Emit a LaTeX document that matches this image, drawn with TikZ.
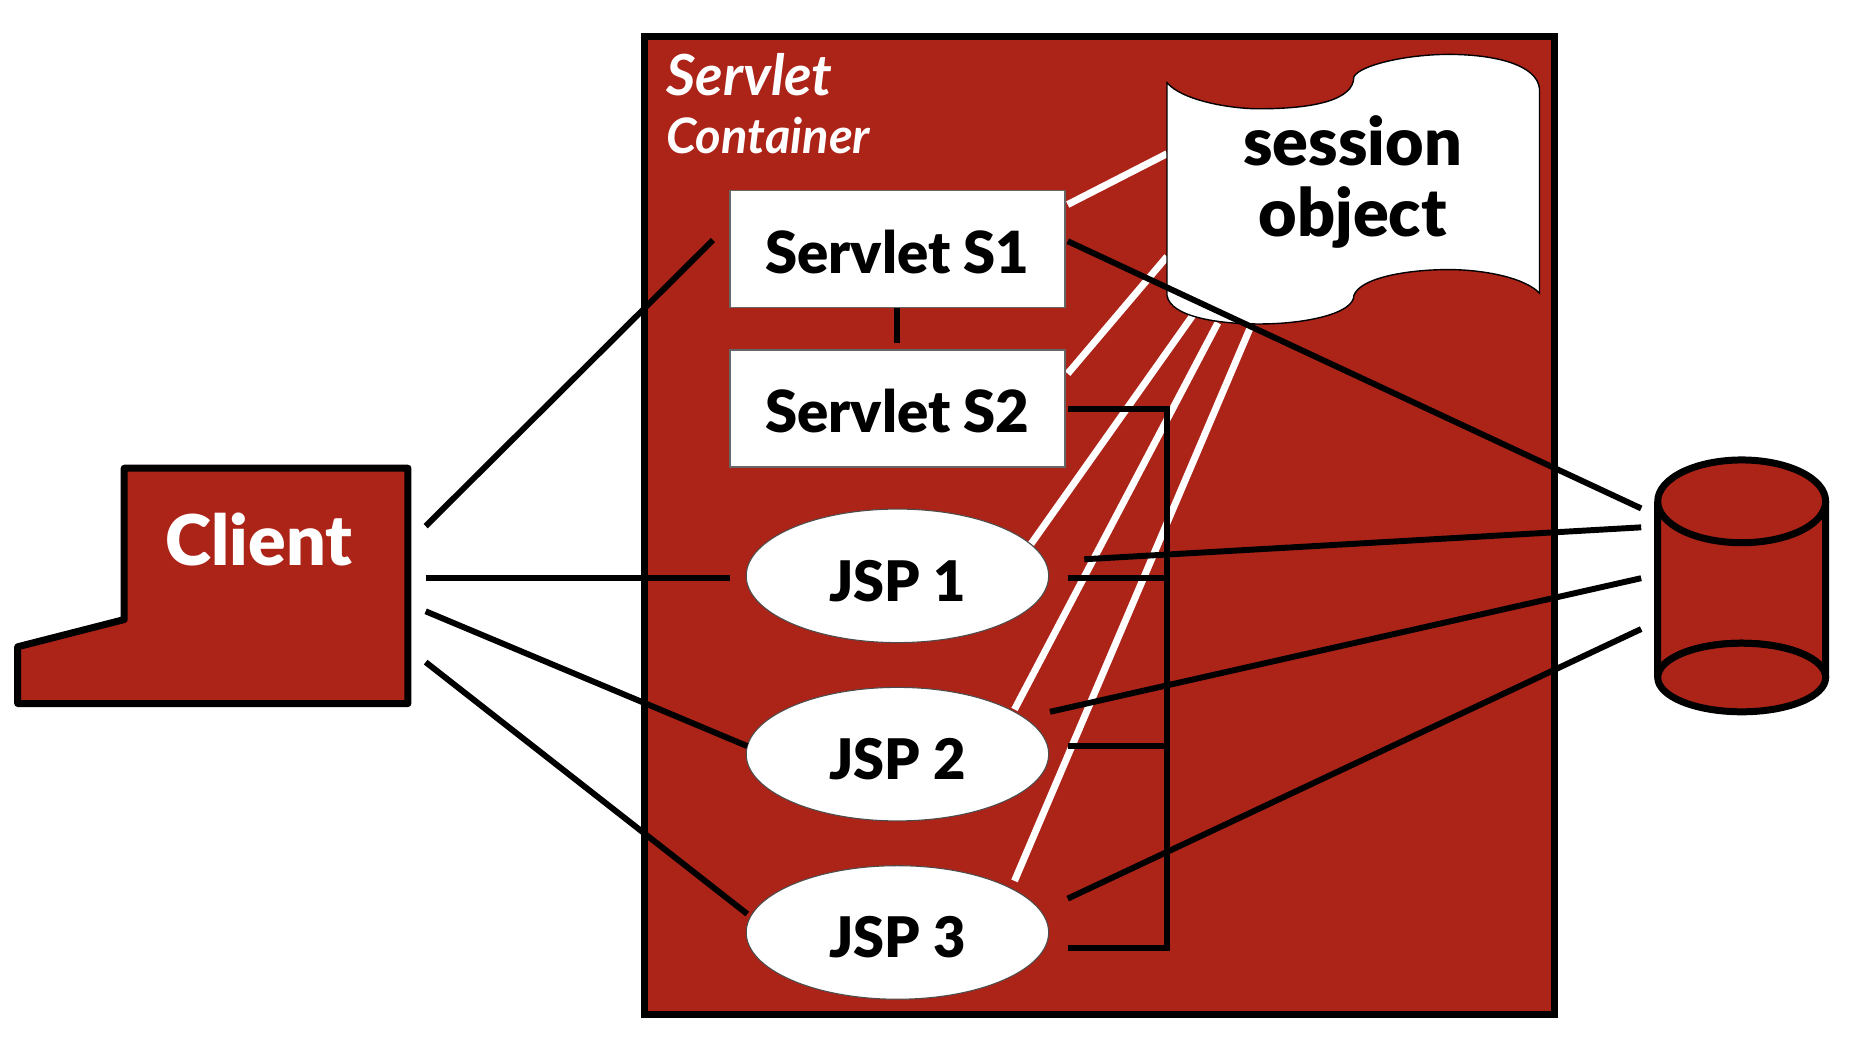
\documentclass[tikz,border=0pt]{standalone}
\usepackage{fontspec}
\setmainfont{Lato}[BoldFont={Lato Black},BoldItalicFont={Lato Bold Italic}]
\usetikzlibrary{shapes.geometric}
\usetikzlibrary{positioning}
\definecolor{brick}{HTML}{AC2318}
\tikzstyle{containerbox} = [rectangle, minimum width=9.148cm, minimum height=9.825cm, inner sep=0pt, draw=black, line width=2pt, fill=brick]
\tikzstyle{servlet} = [rectangle, minimum width=3.374cm, minimum height=1.176cm, inner sep=0pt, text height=14pt, text depth=0pt, text centered, draw=black!60, line width=0.5pt, fill=white, font=\fontsize{16.6}{18}\selectfont\bfseries]
\tikzstyle{jsp} = [ellipse, minimum width=3.04cm, minimum height=1.342cm, inner sep=0pt, text height=14.5pt, text depth=0pt, text centered, draw=black!70, line width=0.3pt, fill=white, font=\fontsize{16}{18}\selectfont\bfseries]
\tikzstyle{brickshape} = [draw=black, line width=2pt, line join=round, fill=brick]
\tikzstyle{paper} = [draw=black, line width=0.4pt, fill=white]
\tikzstyle{arrow} = [line width=1.7pt, black]
\tikzstyle{sharedline} = [line width=2pt, white]

\begin{document}
\begin{tikzpicture}[x=0.01188cm, y=-0.01188cm, node distance=0.41cm]
	\useasboundingbox (0,0) rectangle (1568,886);

	\node (container) [containerbox] at (930,444.5) {};
	\node (container_title) [white, anchor=north west, inner sep=0pt, align=left, font=\bfseries\itshape] at (563,45) {{\fontsize{16.2}{19}\selectfont Servlet}\\[4.5pt]{\fontsize{14}{17}\selectfont Container}};

	% free ends of the connectors
	\coordinate (client_a) at (360,445);
	\coordinate (client_b) at (360,489);
	\coordinate (client_c) at (360,517);
	\coordinate (client_d) at (360,560);
	\coordinate (s1_in) at (603,203);
	\coordinate (jsp1_in) at (617,489);
	\coordinate (jsp2_in) at (632,631);
	\coordinate (jsp3_in) at (632,773);
	\coordinate (s1_white) at (903,173);
	\coordinate (s2_white) at (903,316);
	\coordinate (jsp1_white) at (872,460);
	\coordinate (jsp2_white) at (858,600);
	\coordinate (jsp3_white) at (858,745);
	\coordinate (session_a) at (987,130);
	\coordinate (session_b) at (987,217);
	\coordinate (session_c) at (1010,265);
	\coordinate (session_d) at (1030,273);
	\coordinate (session_e) at (1057,278);
	\coordinate (s1_out) at (903,204);
	\coordinate (s2_out) at (903,346);
	\coordinate (jsp1_out) at (903,489);
	\coordinate (jsp2_out) at (903,631);
	\coordinate (jsp3_out) at (903,802);
	\coordinate (jsp1_db) at (917,473);
	\coordinate (jsp2_db) at (888,602);
	\coordinate (jsp3_db) at (903,760);
	\coordinate (db_a) at (1388,430);
	\coordinate (db_b) at (1388,446);
	\coordinate (db_c) at (1388,489);
	\coordinate (db_d) at (1388,532);
	\coordinate (bus_top) at (987,346);
	\coordinate (bus_bottom) at (987,802);
	\coordinate (bus_jsp1) at (987,489);
	\coordinate (bus_jsp2) at (987,631);

	\draw [sharedline] (s1_white) -- (session_a);
	\draw [sharedline] (s2_white) -- (session_b);
	\draw [sharedline] (jsp1_white) -- (session_c);
	\draw [sharedline] (jsp2_white) -- (session_d);
	\draw [sharedline] (jsp3_white) -- (session_e);

	\node (s1) [servlet] at (759,210.5) {Servlet S1};
	\node (s2) [servlet, below=of s1] {Servlet S2};
	\node (jsp1) [jsp, below=of s2] {JSP 1};
	\node (jsp2) [jsp, below=0.44cm of jsp1] {JSP 2};
	\node (jsp3) [jsp, below=0.44cm of jsp2] {JSP 3};

	\draw [paper] (987,70) .. controls (1000,85) and (1040,92) .. (1065,92) .. controls (1110,92) and (1145,85) .. (1145,65) .. controls (1150,55) and (1190,46) .. (1225,46) .. controls (1265,46) and (1300,55) .. (1302,75) -- (1302,248) .. controls (1290,235) and (1255,228) .. (1225,228) .. controls (1190,228) and (1150,235) .. (1145,250) .. controls (1145,265) and (1105,274) .. (1065,274) .. controls (1030,274) and (990,268) .. (987,250) -- cycle;
	\node (session) [align=center, inner sep=0pt, font=\fontsize{19}{20.3}\selectfont\bfseries] at (1144,154) {session\\object};

	\draw [brickshape] (105,396) -- (345,396) -- (345,595) -- (15,595) -- (15,547) -- (105,524) -- cycle;
	\node (client) [white, inner sep=0pt, font=\fontsize{20}{22}\selectfont\bfseries] at (219,456) {Client};

	\draw [brickshape] (1402,424) -- (1402,573) arc[start angle=180, end angle=360, x radius=71, y radius=29] -- (1544,424);
	\draw [brickshape] (1473,424) ellipse[x radius=71, y radius=35];
	\draw [brickshape] (1473,573) ellipse[x radius=71, y radius=29];

	\draw [arrow] (client_a) -- (s1_in);
	\draw [arrow] (client_b) -- (jsp1_in);
	\draw [arrow] (client_c) -- (jsp2_in);
	\draw [arrow] (client_d) -- (jsp3_in);
	\draw [arrow] (s1.south) -- ++(0,29);
	\draw [arrow] (s1_out) -- (db_a);
	\draw [arrow] (jsp1_db) -- (db_b);
	\draw [arrow] (jsp2_db) -- (db_c);
	\draw [arrow] (jsp3_db) -- (db_d);
	\draw [arrow] (s2_out) -- (bus_top) -- (bus_bottom) -- (jsp3_out);
	\draw [arrow] (jsp1_out) -- (bus_jsp1);
	\draw [arrow] (jsp2_out) -- (bus_jsp2);

\end{tikzpicture}
\end{document}
